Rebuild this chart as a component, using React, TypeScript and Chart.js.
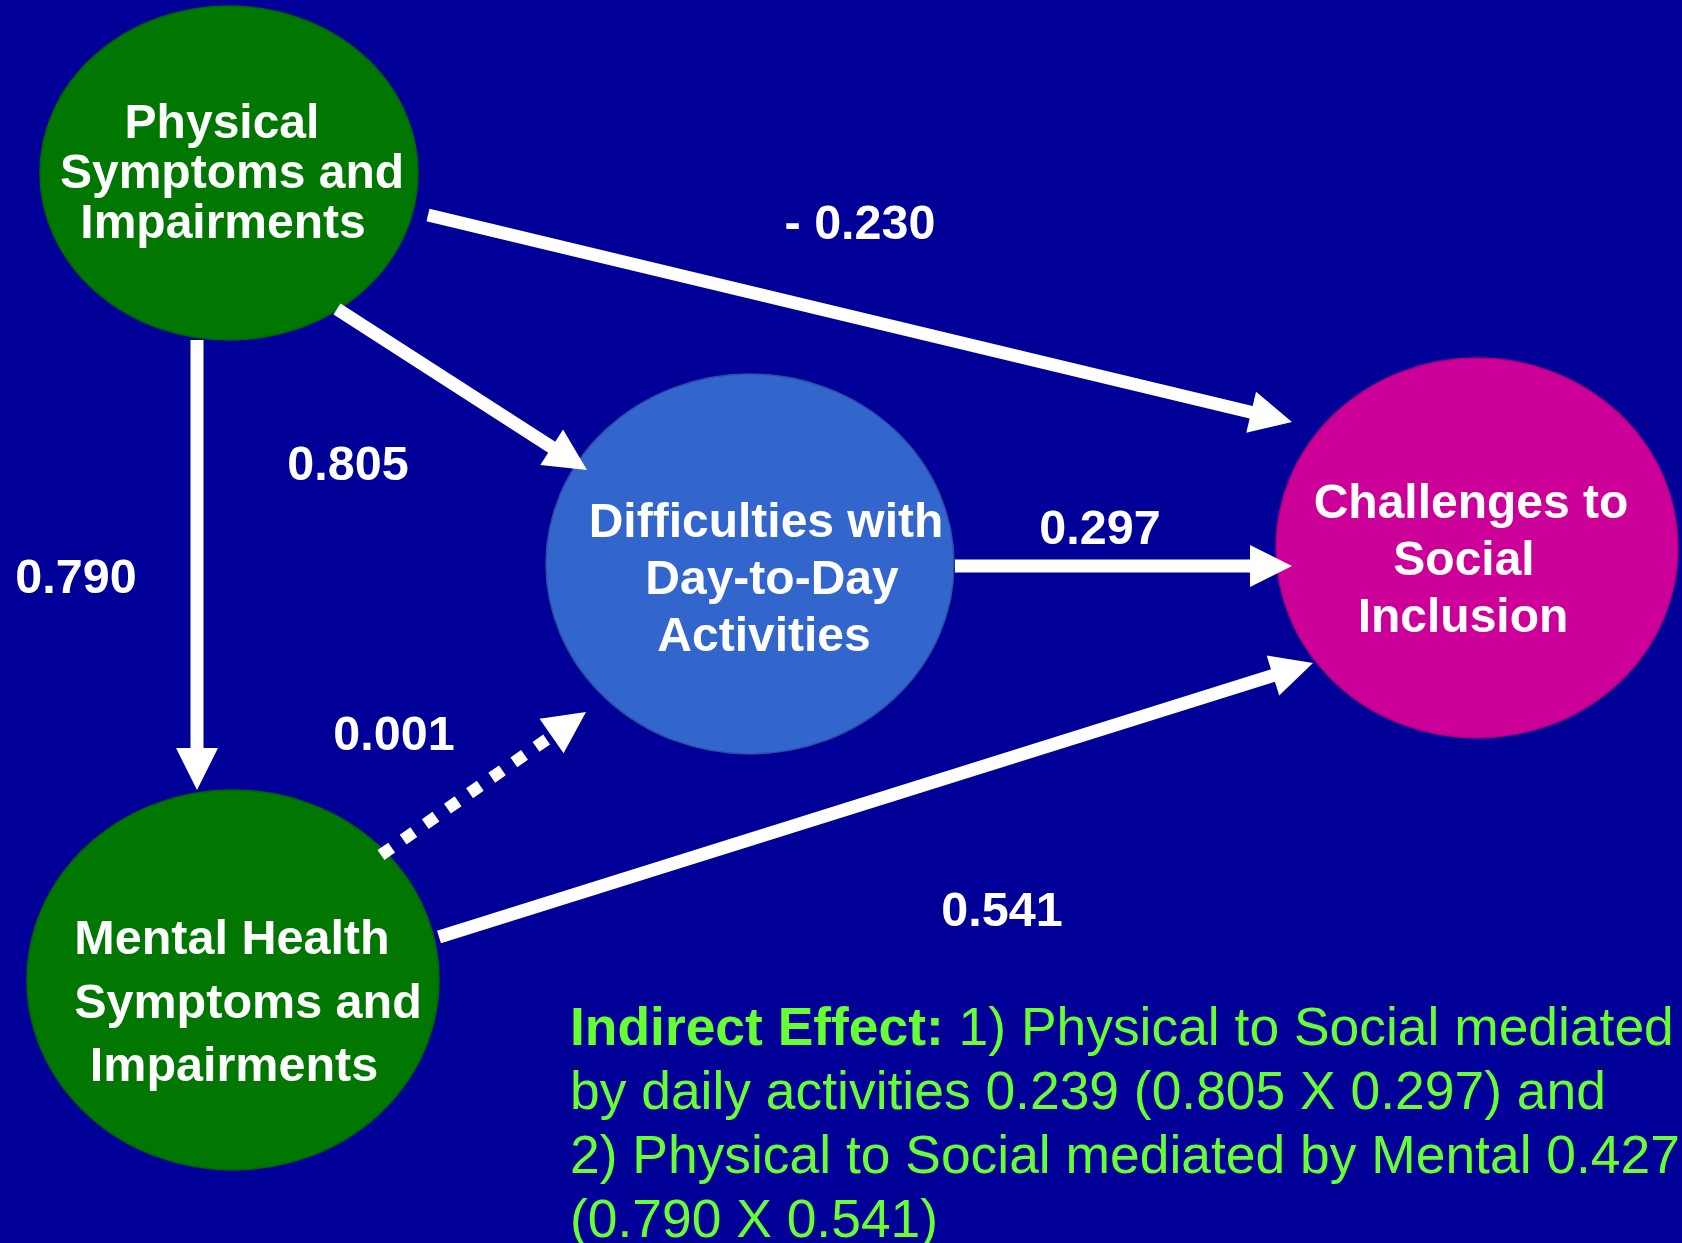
import React, { useEffect, useRef } from "react";
import { Chart, registerables } from "chart.js";

Chart.register(...registerables);

// ---------- Data ----------
const nodeKeys = ["physical", "daily", "social", "mental"];
const nodeLines = [
  ["Physical", "Symptoms and", "Impairments"],
  ["Difficulties with", "Day-to-Day", "Activities"],
  ["Challenges to", "Social", "Inclusion"],
  ["Mental Health", "Symptoms and", "Impairments"],
];
// node centres and half-axes in diagram units
const nodeX = [229, 750, 1477, 233];
const nodeY = [173, 564, 548, 980];
const nodeRX = [189, 204, 201, 206];
const nodeRY = [167, 190, 190, 190];

// paths (standardised coefficients)
const edgeFrom = ["physical", "physical", "physical", "mental", "daily", "mental"];
const edgeTo = ["social", "daily", "mental", "daily", "social", "social"];
const edgeCoef = ["- 0.230", "0.805", "0.790", "0.001", "0.297", "0.541"];
const edgeStartX = [428, 337, 197, 381, 955, 439];
const edgeStartY = [215, 309, 340, 855, 566, 937];
const edgeEndX = [1292, 587, 197, 586, 1292, 1313];
const edgeEndY = [422, 470, 790, 712, 566, 663];
const edgeDashed = [false, false, false, true, false, false];

const noteBold = "Indirect Effect:";
const noteLines = [
  " 1) Physical to Social mediated",
  "by daily activities 0.239 (0.805 X 0.297) and",
  "2) Physical to Social mediated by Mental 0.427",
  "(0.790 X 0.541)",
];

// ---------- Layout / style ----------
const W = 1682;
const H = 1243;
const BG = "#000099";
const nodeFill = ["#007700", "#3366CC", "#CC0099", "#007700"];
const nodeStroke = ["#006600", "#2A4FA8", "#A8007F", "#006600"];
const nodeFont = [48, 48, 48, 48.5];
const nodeTextX = [
  [222, 232, 223],
  [766, 772, 764],
  [1471, 1464, 1463],
  [232, 248, 234],
];
const nodeTextBase = [138, 537, 518, 954];
const nodeTextLH = [50, 57, 57, 63.5];
const labelFont = 48.5;
const labelX = [860, 348, 76, 394, 1100, 1002];
const labelY = [239, 480, 593, 750, 544, 926];
const noteFont = 53.4;
const noteX = 570;
const noteBase = 1045;
const noteLH = 64;
const FONT = '"Liberation Sans", Arial, Helvetica, sans-serif';

const diagramPlugin = {
  id: "pathDiagram",
  beforeDraw(chart: any) {
    const ctx = chart.ctx;
    ctx.save();
    ctx.fillStyle = BG;
    ctx.fillRect(0, 0, chart.width, chart.height);
    ctx.restore();
  },
  afterDatasetsDraw(chart: any) {
    const ctx: CanvasRenderingContext2D = chart.ctx;
    const xs = chart.scales.x;
    const ys = chart.scales.y;
    const px = (v: number) => xs.getPixelForValue(v);
    const py = (v: number) => ys.getPixelForValue(v);
    ctx.save();

    // nodes
    nodeKeys.forEach((_, i) => {
      const cx = px(nodeX[i]);
      const cy = py(nodeY[i]);
      const rx = Math.abs(px(nodeX[i] + nodeRX[i]) - cx);
      const ry = Math.abs(py(nodeY[i] + nodeRY[i]) - cy);
      ctx.beginPath();
      ctx.ellipse(cx, cy, rx, ry, 0, 0, Math.PI * 2);
      ctx.fillStyle = nodeFill[i];
      ctx.fill();
      ctx.lineWidth = 1.5;
      ctx.strokeStyle = nodeStroke[i];
      ctx.stroke();
    });

    // edges
    const HEAD_L = 42;
    const HEAD_W = 21;
    edgeFrom.forEach((_, i) => {
      const x1 = px(edgeStartX[i]);
      const y1 = py(edgeStartY[i]);
      const x2 = px(edgeEndX[i]);
      const y2 = py(edgeEndY[i]);
      const dx = x2 - x1;
      const dy = y2 - y1;
      const len = Math.hypot(dx, dy);
      const ux = dx / len;
      const uy = dy / len;
      const bx = x2 - ux * HEAD_L;
      const by = y2 - uy * HEAD_L;
      ctx.strokeStyle = "#FFFFFF";
      ctx.fillStyle = "#FFFFFF";
      ctx.lineCap = "butt";
      if (edgeDashed[i]) {
        ctx.lineWidth = 12;
        ctx.setLineDash([13, 14]);
      } else {
        ctx.lineWidth = 13;
        ctx.setLineDash([]);
      }
      ctx.beginPath();
      ctx.moveTo(x1, y1);
      ctx.lineTo(bx + ux * (edgeDashed[i] ? -6 : 1), by + uy * (edgeDashed[i] ? -6 : 1));
      ctx.stroke();
      ctx.setLineDash([]);
      ctx.beginPath();
      ctx.moveTo(x2, y2);
      ctx.lineTo(bx - uy * HEAD_W, by + ux * HEAD_W);
      ctx.lineTo(bx + uy * HEAD_W, by - ux * HEAD_W);
      ctx.closePath();
      ctx.fill();

      // coefficient label
      ctx.font = `bold ${labelFont}px ${FONT}`;
      ctx.textAlign = "center";
      ctx.textBaseline = "alphabetic";
      ctx.fillText(edgeCoef[i], px(labelX[i]), py(labelY[i]));
    });

    // node texts
    nodeLines.forEach((lines, i) => {
      ctx.font = `bold ${nodeFont[i]}px ${FONT}`;
      ctx.fillStyle = "#FFFFFF";
      ctx.textAlign = "center";
      ctx.textBaseline = "alphabetic";
      lines.forEach((t, j) => {
        ctx.fillText(t, px(nodeTextX[i][j]), py(nodeTextBase[i] + j * nodeTextLH[i]));
      });
    });

    // note
    ctx.textAlign = "left";
    ctx.textBaseline = "alphabetic";
    ctx.fillStyle = "#66FF33";
    noteLines.forEach((t, j) => {
      let x = px(noteX);
      const y = py(noteBase + j * noteLH);
      if (j === 0) {
        ctx.font = `bold ${noteFont}px ${FONT}`;
        ctx.fillText(noteBold, x, y);
        x += ctx.measureText(noteBold).width;
      }
      ctx.font = `${noteFont}px ${FONT}`;
      ctx.fillText(t, x, y);
    });

    ctx.restore();
  },
};

export default function App() {
  const ref = useRef<HTMLCanvasElement | null>(null);
  useEffect(() => {
    if (!ref.current) return;
    const chart = new Chart(ref.current, {
      type: "scatter",
      data: {
        datasets: [
          {
            label: "nodes",
            data: nodeX.map((x, i) => ({ x, y: nodeY[i] })),
            pointRadius: 0,
            pointHoverRadius: 0,
          },
        ],
      },
      options: {
        responsive: false,
        animation: false,
        events: [],
        layout: { padding: 0 },
        plugins: {
          legend: { display: false },
          tooltip: { enabled: false },
        },
        scales: {
          x: { type: "linear", min: 0, max: W, display: false },
          y: { type: "linear", min: 0, max: H, reverse: true, display: false },
        },
      },
      plugins: [diagramPlugin],
    } as any);
    return () => chart.destroy();
  }, []);
  return (
    <div
      style={{
        position: "absolute",
        left: 0,
        top: 0,
        width: W,
        height: H,
        background: BG,
        overflow: "hidden",
      }}
    >
      <canvas ref={ref} width={W} height={H} style={{ display: "block" }} />
    </div>
  );
}
